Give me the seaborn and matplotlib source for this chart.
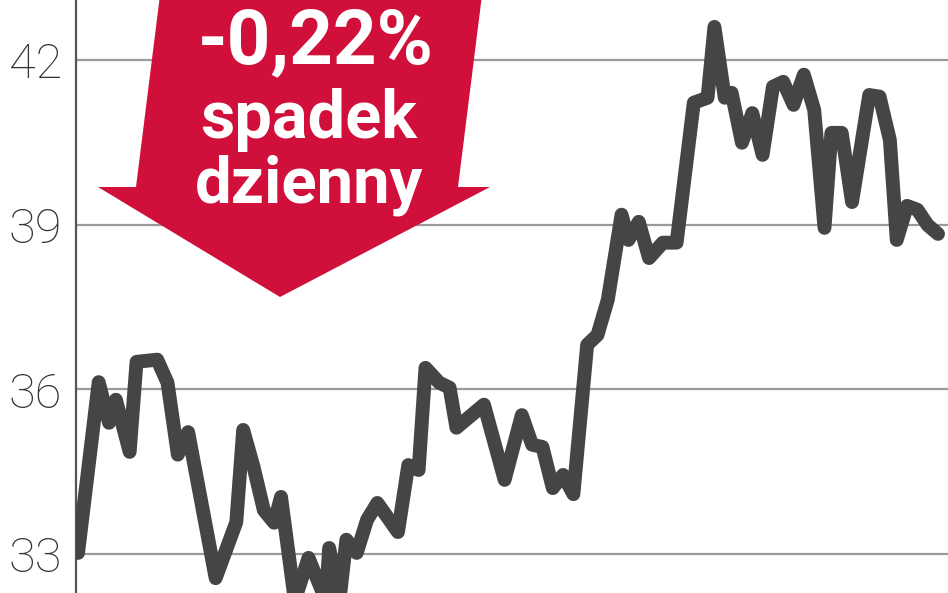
import matplotlib
matplotlib.use("Agg")
import matplotlib.pyplot as plt
from matplotlib.patches import Polygon
import seaborn as sns
import pandas as pd

# ---- data ----
days = [0, 6, 9, 11, 15, 17, 23, 26, 29, 32, 40, 46, 48, 51, 54, 57, 59, 63, 67, 69,
        72, 73, 76, 78, 81, 84, 87, 93, 96, 99, 101, 105, 108, 110, 118, 124, 129, 132,
        135, 138, 141, 144, 148, 151, 154, 158, 160, 163, 166, 170, 174, 179, 183, 185,
        188, 190, 193, 196, 199, 202, 205, 208, 211, 214, 217, 219, 222, 225, 230, 233,
        236, 238, 241, 244, 247, 250]
prices = [33.02, 36.13, 35.39, 35.81, 34.86, 36.50, 36.54, 36.12, 34.81, 35.22, 32.56,
          33.58, 35.26, 34.59, 33.80, 33.57, 34.04, 32.16, 32.93, 32.62, 32.16, 33.11,
          32.16, 33.26, 33.02, 33.62, 33.93, 33.40, 34.62, 34.53, 36.39, 36.12, 36.03,
          35.30, 35.72, 34.35, 35.53, 34.99, 34.95, 34.20, 34.44, 34.09, 36.81, 36.99,
          37.63, 39.18, 38.72, 39.05, 38.39, 38.67, 38.67, 41.22, 41.31, 42.60, 41.31,
          41.40, 40.49, 41.03, 40.27, 41.51, 41.60, 41.18, 41.73, 41.09, 38.94, 40.67,
          40.67, 39.41, 41.36, 41.33, 40.54, 38.72, 39.34, 39.27, 38.99, 38.83]
y_ticks = [33, 36, 39, 42]
y_tick_labels = ["33", "36", "39", "42"]
badge_value = "-0,22%"
badge_line1 = "spadek"
badge_line2 = "dzienny"

df = pd.DataFrame({"day": days, "price": prices})

sns.set_theme(style="white")
plt.rcParams["font.family"] = ["Roboto", "DejaVu Sans"]

W, H = 948, 593
fig = plt.figure(figsize=(W / 100, H / 100), dpi=100)
ax = fig.add_axes([76 / W, 0, 1 - 76 / W, 1])

for t in y_ticks:
    ax.axhline(t, color="#9a9a9a", lw=1.6, zorder=1)

sns.lineplot(data=df, x="day", y="price", ax=ax, color="#454545", lw=10,
             sort=False, zorder=3, solid_capstyle="round", solid_joinstyle="round")

ax.set_xlim(-0.6, 252.9)
ax.set_ylim(32.29, 43.09)
ax.set_yticks(y_ticks)
ax.set_yticklabels(y_tick_labels, fontsize=35, color="#333333", fontweight="light")
ax.set_xticks([])
ax.set_xlabel("")
ax.set_ylabel("")
ax.tick_params(axis="y", length=0, pad=10)
for s in ["top", "right", "bottom"]:
    ax.spines[s].set_visible(False)
ax.spines["left"].set_color("#555555")
ax.spines["left"].set_linewidth(1.6)

# ---- red arrow badge (annotation) ----
arrow_px = [(160, -5), (482, -5), (458, 187), (490, 187), (280, 297),
            (98, 187), (136, 187)]
arrow = Polygon([(x / W, 1 - y / H) for x, y in arrow_px], closed=True,
                transform=fig.transFigure, facecolor="#d0103a", edgecolor="none",
                zorder=5)
fig.add_artist(arrow)

fig.text(316 / W, 1 - 63 / H, badge_value, ha="center", va="baseline",
         color="white", fontsize=55, fontweight="bold", zorder=6)
fig.text(308 / W, 1 - 138 / H, badge_line1, ha="center", va="baseline",
         color="white", fontsize=48, fontweight="bold", zorder=6)
fig.text(309 / W, 1 - 203 / H, badge_line2, ha="center", va="baseline",
         color="white", fontsize=47, fontweight="bold", zorder=6)

fig.savefig("out.png", dpi=100)
